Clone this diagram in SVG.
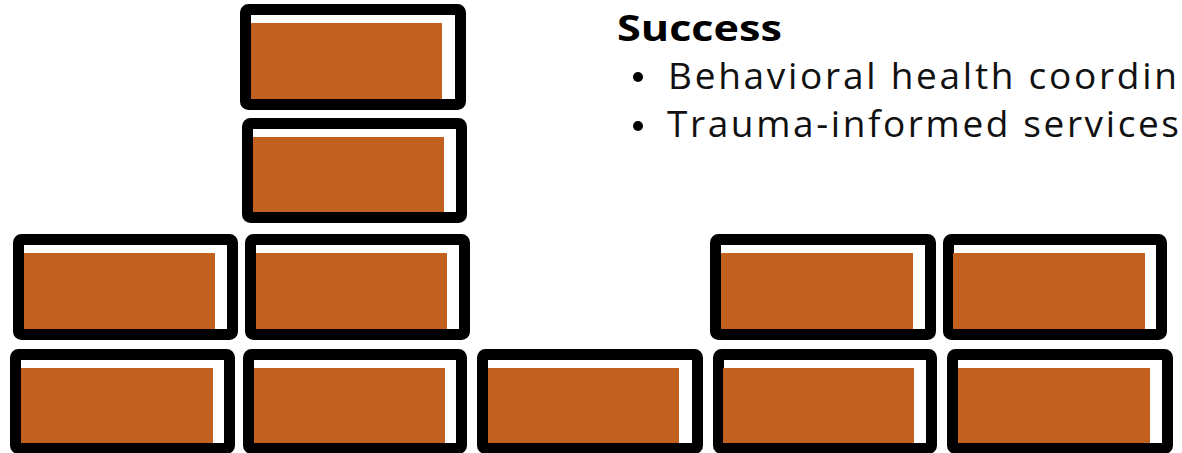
<svg xmlns="http://www.w3.org/2000/svg" width="1182" height="453" viewBox="0 0 1182 453">
<style>
.frame{fill:#ffffff;stroke:#000000;stroke-width:11;stroke-linejoin:round}
.clay{fill:#C2601F}
.title{font-family:"Open Sans","DejaVu Sans",sans-serif;font-weight:bold;font-size:36px;fill:#000}
.item{font-family:"Open Sans","DejaVu Sans",sans-serif;font-size:37px;fill:#111}
.dot{fill:#000}
</style>
<rect width="1182" height="453" fill="#ffffff"/>
<g id="connectors"></g>
<g id="brick-top-1"><rect class="frame" x="245.5" y="9.5" width="215" height="95" rx="3"/><rect class="clay" x="251" y="23" width="191" height="76"/></g>
<g id="brick-top-2"><rect class="frame" x="247.5" y="123.5" width="214" height="94" rx="3"/><rect class="clay" x="253" y="137" width="191" height="75"/></g>
<g id="brick-r3-1"><rect class="frame" x="18.5" y="239.5" width="214" height="95" rx="3"/><rect class="clay" x="24" y="253" width="191" height="76"/></g>
<g id="brick-r3-2"><rect class="frame" x="250.5" y="239.5" width="214" height="95" rx="3"/><rect class="clay" x="256" y="253" width="191" height="76"/></g>
<g id="brick-r3-4"><rect class="frame" x="715.5" y="239.5" width="215" height="95" rx="3"/><rect class="clay" x="721" y="253" width="192" height="76"/></g>
<g id="brick-r3-5"><rect class="frame" x="948.5" y="239.5" width="213" height="95" rx="3"/><rect class="clay" x="953" y="253" width="192" height="76"/></g>
<g id="brick-r4-1"><rect class="frame" x="15.5" y="354.5" width="214" height="94" rx="3"/><rect class="clay" x="21" y="368" width="192" height="75"/></g>
<g id="brick-r4-2"><rect class="frame" x="248.5" y="354.5" width="213" height="94" rx="3"/><rect class="clay" x="254" y="368" width="191" height="75"/></g>
<g id="brick-r4-3"><rect class="frame" x="482.5" y="354.5" width="215" height="94" rx="3"/><rect class="clay" x="488" y="368" width="191" height="75"/></g>
<g id="brick-r4-4"><rect class="frame" x="718.5" y="354.5" width="213" height="94" rx="3"/><rect class="clay" x="723" y="368" width="191" height="75"/></g>
<g id="brick-r4-5"><rect class="frame" x="952.5" y="354.5" width="215" height="94" rx="3"/><rect class="clay" x="958" y="368" width="192" height="75"/></g>
<g id="text-success">
<text class="title" x="617" y="41" textLength="165" lengthAdjust="spacingAndGlyphs">Success</text>
<circle class="dot" cx="638" cy="77" r="5"/>
<text class="item" x="668" y="89" textLength="509" lengthAdjust="spacing">Behavioral health coordin</text>
<circle class="dot" cx="638" cy="126" r="5"/>
<text class="item" x="667" y="137" textLength="512" lengthAdjust="spacing">Trauma-informed services</text>
</g>
</svg>
